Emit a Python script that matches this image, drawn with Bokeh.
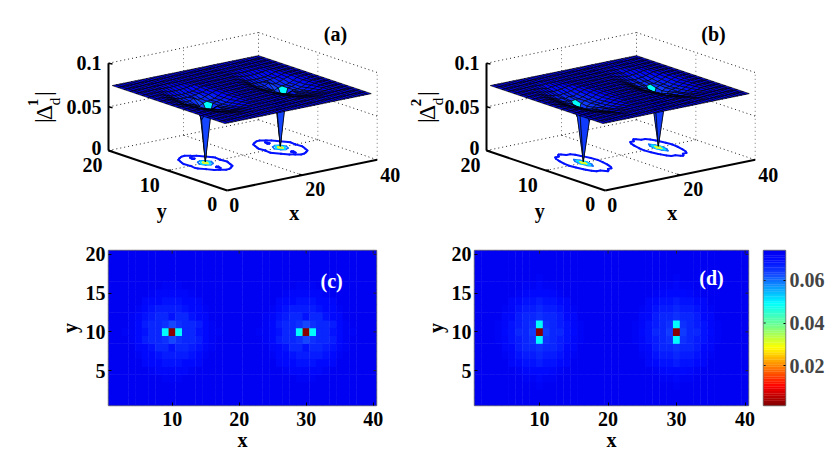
import numpy as np
from bokeh.core.properties import value
from bokeh.embed import file_html
from bokeh.layouts import column, row
from bokeh.models import ColumnDataSource, FixedTicker, LinearAxis, Range1d
from bokeh.plotting import figure
from bokeh.resources import INLINE

# ---------- data ----------
x_cells = list(range(1, 41))
y_cells = list(range(1, 21))
vortex_x = [10, 30]
vortex_y = 10
background = 0.0735
Z_LOW, Z_HIGH = 0.0012, 0.0741

# patches around a vortex, in units of 1e-4: rows from +dy to -dy, columns dx=-7..7
patch_c = [
    [735,735,735,735,733,730,727,725,727,730,733,735,735,735,735],
    [735,735,735,730,722,716,712,710,712,716,722,730,735,735,735],
    [735,735,730,716,702,696,692,690,692,696,702,716,730,735,735],
    [735,730,722,706,690,684,680,680,684,690,700,706,722,732,735],
    [735,728,715,695,675,668,670,692,670,668,685,700,715,730,735],
    [733,726,702,680,668,664,650,630,650,664,668,680,702,726,733],
    [728,722,702,685,672,664,500,15,500,664,672,685,702,722,728],
    [733,726,702,680,668,664,650,630,650,664,668,680,702,726,733],
    [735,730,715,700,685,668,670,692,670,668,675,695,715,728,735],
    [735,732,722,706,700,690,684,680,680,684,690,706,722,730,735],
    [735,735,730,716,702,696,692,690,692,696,702,716,730,735,735],
    [735,735,735,730,722,716,712,710,712,716,722,730,735,735,735],
    [735,735,735,735,733,730,727,725,727,730,733,735,735,735,735],
]
patch_d = [
    [735,735,735,735,735,735,733,728,733,735,735,735,735,735,735],
    [735,735,735,735,732,728,722,712,722,728,732,735,735,735,735],
    [735,735,735,730,720,712,706,700,706,712,720,730,735,735,735],
    [735,735,730,718,705,695,690,682,690,695,705,718,730,735,735],
    [735,733,724,708,692,676,680,668,680,676,692,708,724,733,735],
    [735,730,718,700,682,668,670,660,670,668,682,700,718,730,735],
    [733,726,712,692,676,670,650,500,650,670,676,692,712,726,733],
    [730,722,706,688,672,664,640,15,640,664,672,688,706,722,730],
    [733,726,712,692,676,670,650,500,650,670,676,692,712,726,733],
    [735,730,718,700,682,668,670,660,670,668,682,700,718,730,735],
    [735,733,724,708,692,676,680,668,680,676,692,708,724,733,735],
    [735,735,730,718,705,695,690,682,690,695,705,718,730,735,735],
    [735,735,735,730,720,712,706,700,706,712,720,730,735,735,735],
    [735,735,735,735,732,728,722,712,722,728,732,735,735,735,735],
    [735,735,735,735,735,735,733,728,733,735,735,735,735,735,735],
]
PATCH_SCALE = 1e-4
contour_levels = [0.0685, 0.060, 0.052, 0.030]

heat_x_ticks = [10, 20, 30, 40]
heat_y_ticks = [5, 10, 15, 20]
bar_ticks = [0.02, 0.04, 0.06]
cube_x_ticks = [0, 20, 40]
cube_y_ticks = [0, 10, 20]
cube_z_ticks = [0, 0.05, 0.1]
z_tick_labels = ["0", "0.05", "0.1"]

# ---------- colour table (reversed jet as seen on the colour bar) ----------
stops = [(0.0, (128, 0, 0)), (0.125, (255, 0, 0)), (0.375, (255, 255, 0)),
         (0.5, (128, 255, 128)), (0.66, (0, 255, 255)), (0.85, (20, 70, 255)),
         (0.94, (0, 10, 255)), (1.0, (0, 0, 240))]
fr = [s[0] for s in stops]
palette = []
for k in range(64):
    t = (k + 0.5) / 64
    rgb = [int(round(np.interp(t, fr, [s[1][c] for s in stops]))) for c in range(3)]
    palette.append("#%02x%02x%02x" % tuple(rgb))


def color_of(z):
    k = int((z - Z_LOW) / (Z_HIGH - Z_LOW) * 64)
    return palette[min(63, max(0, k))]


def make_grid(patch):
    g = np.full((len(x_cells), len(y_cells)), background)
    p = np.array(patch, dtype=float) * PATCH_SCALE
    nrow, ncol = p.shape
    for vx in vortex_x:
        for r in range(nrow):
            for c in range(ncol):
                dx = c - ncol // 2
                dy = nrow // 2 - r
                g[vx - 1 + dx, vortex_y - 1 + dy] = p[r, c]
    return g


grid_c = make_grid(patch_c)
grid_d = make_grid(patch_d)

FONT = value("Liberation Serif")
FS = "20px"

# ---------- 3D projection, page pixels ----------
ORG = np.array([226.7, 190.0])
EX = np.array([150.0 / 40, -30.7 / 40])
EY = np.array([-118.7 / 20, -40.0 / 20])
EZ = np.array([0.0, -873.0])


def proj(x, y, z, dx):
    px = ORG[0] + dx + np.asarray(x) * EX[0] + np.asarray(y) * EY[0]
    py = ORG[1] + np.asarray(x) * EX[1] + np.asarray(y) * EY[1] + np.asarray(z) * EZ[1]
    return px, py


def contour_segments(g, level):
    xs, ys = np.array(x_cells, float), np.array(y_cells, float)
    segs = []
    for i in range(len(xs) - 1):
        for j in range(len(ys) - 1):
            cs = [(i, j), (i + 1, j), (i + 1, j + 1), (i, j + 1)]
            pts = []
            for a in range(4):
                p0, p1 = cs[a], cs[(a + 1) % 4]
                z0, z1 = g[p0], g[p1]
                if (z0 < level) != (z1 < level):
                    t = (level - z0) / (z1 - z0)
                    pts.append((xs[p0[0]] + t * (xs[p1[0]] - xs[p0[0]]),
                                ys[p0[1]] + t * (ys[p1[1]] - ys[p0[1]])))
            for n in range(0, len(pts) - 1, 2):
                segs.append((pts[n], pts[n + 1]))
    return segs


def cube_panel(g, dx, x0, width, letter, letter_x, sup, label_dx):
    p = figure(width=width, height=224, x_range=Range1d(x0, x0 + width), y_range=Range1d(232, 8),
               toolbar_location=None, output_backend="svg", min_border=0, outline_line_color=None)
    p.axis.visible = False
    p.grid.visible = False

    # dotted box
    dash = "1 3"
    lines = []
    for x in cube_x_ticks:
        lines.append(((x, 20, 0), (x, 20, 0.1), "#777777"))
    for y in cube_y_ticks:
        lines.append(((40, y, 0), (40, y, 0.1), "#777777"))
    for z in cube_z_ticks:
        lines.append(((0, 20, z), (40, 20, z), "#222222"))
        lines.append(((40, 20, z), (40, 0, z), "#222222"))
    lines.append(((20, 0, 0), (20, 20, 0), "#222222"))
    lines.append(((0, 10, 0), (40, 10, 0), "#222222"))
    for a, b, col in lines:
        ax, ay = proj(a[0], a[1], a[2], dx)
        bx, by = proj(b[0], b[1], b[2], dx)
        p.line([float(ax), float(bx)], [float(ay), float(by)], line_color=col, line_width=1, line_dash=dash)

    # floor contours
    for lev, w in zip(contour_levels, [2.0, 1.6, 1.6, 1.2]):
        segs = contour_segments(g, lev)
        x0s, y0s = proj([s[0][0] for s in segs], [s[0][1] for s in segs], 0, dx)
        x1s, y1s = proj([s[1][0] for s in segs], [s[1][1] for s in segs], 0, dx)
        p.segment(x0s, y0s, x1s, y1s, line_color=color_of(lev), line_width=w, line_cap="round")

    # surface, far faces first
    faces = []
    nx, ny = g.shape
    lowest = g.min() + 1e-6
    for i in range(nx - 1):
        for j in range(ny - 1):
            zs = [g[i, j], g[i + 1, j], g[i + 1, j + 1], g[i, j + 1]]
            if min(zs) <= lowest:
                fz = sorted(zs)[2]
            else:
                fz = zs[0]
            cx, cy = x_cells[i] + 0.5, y_cells[j] + 0.5
            faces.append((0.77 * cx + 2 * cy, i, j, fz))
    faces.sort(key=lambda t: -t[0])
    xs, ys, cols = [], [], []
    for _, i, j, fz in faces:
        qx = [x_cells[i], x_cells[i + 1], x_cells[i + 1], x_cells[i]]
        qy = [y_cells[j], y_cells[j], y_cells[j + 1], y_cells[j + 1]]
        qz = [g[i, j], g[i + 1, j], g[i + 1, j + 1], g[i, j + 1]]
        px, py = proj(qx, qy, qz, dx)
        xs.append(px.tolist())
        ys.append(py.tolist())
        cols.append(color_of(fz))
    p.patches("xs", "ys", source=ColumnDataSource(dict(xs=xs, ys=ys, c=cols)), fill_color="c",
              fill_alpha=1.0, line_color="#000000", line_width=0.8, line_alpha=0.85)

    # solid axes
    for a, b in [((0, 20, 0), (0, 20, 0.1)), ((0, 0, 0), (0, 20, 0)), ((0, 0, 0), (40, 0, 0))]:
        ax, ay = proj(a[0], a[1], a[2], dx)
        bx, by = proj(b[0], b[1], b[2], dx)
        p.line([float(ax), float(bx)], [float(ay), float(by)], line_color="black", line_width=2)
    # tick stubs
    for z in cube_z_ticks:
        ax, ay = proj(0, 20, z, dx)
        p.line([float(ax), float(ax) + 4], [float(ay), float(ay) + 0.8], line_color="black", line_width=1.5)
    bx, by = proj(20, 0, 0, dx)
    p.line([float(bx), float(bx) - 3], [float(by), float(by) - 1], line_color="black", line_width=1.5)
    cx, cy = proj(0, 10, 0, dx)
    p.line([float(cx), float(cx) + 3], [float(cy), float(cy) - 0.6], line_color="black", line_width=1.5)

    # tick labels
    tx, ty = proj(cube_x_ticks, [0, 0, 0], 0, dx)
    p.text(tx + np.array([7, 13, 13]), ty + np.array([14, 14, 15]), text=[str(v) for v in cube_x_ticks],
           text_font=FONT, text_font_style="bold", text_font_size=FS, text_align="center", text_baseline="middle")
    tx, ty = proj([0, 0, 0], cube_y_ticks, 0, dx)
    p.text(tx + np.array([-15, -18, -16]), ty + np.array([13, 14, 14]), text=[str(v) for v in cube_y_ticks],
           text_font=FONT, text_font_style="bold", text_font_size=FS, text_align="center", text_baseline="middle")
    tx, ty = proj([0, 0, 0], [20, 20, 20], cube_z_ticks, dx)
    p.text(tx - 7, ty + np.array([-3, 0, 0]), text=z_tick_labels,
           text_font=FONT, text_font_style="bold", text_font_size=FS, text_align="right", text_baseline="middle")
    # axis names
    tx, ty = proj(20, 0, 0, dx)
    p.text([float(tx) - 8], [float(ty) + 38], text=["x"], text_font=FONT, text_font_style="bold",
           text_font_size="20px", text_align="center", text_baseline="middle")
    tx, ty = proj(0, 10, 0, dx)
    p.text([float(tx) - 6], [float(ty) + 40], text=["y"], text_font=FONT, text_font_style="bold",
           text_font_size="20px", text_align="center", text_baseline="middle")

    # |Delta^n_d| assembled from pieces, rotated
    A = np.pi / 2
    lx = label_dx
    kw = dict(text_font=FONT, angle=A, text_align="center", text_baseline="middle")
    p.text([lx + 42], [120], text=["|"], text_font_size="24px", **kw)
    p.text([lx + 43], [112], text=["\u0394"], text_font_size="24px", **kw)
    p.text([lx + 32], [102], text=[sup], text_font_size="15px", text_font_style="bold", **kw)
    p.text([lx + 54], [101], text=["d"], text_font_size="15px", **kw)
    p.text([lx + 42], [93], text=["|"], text_font_size="24px", **kw)

    p.text([letter_x], [33], text=[letter], text_font=FONT, text_font_style="bold", text_font_size=FS,
           text_align="center", text_baseline="middle")
    return p


def heat_panel(g, width, left, right, letter, lx, ly):
    p = figure(width=width, height=224, x_range=Range1d(0.5, 40.5), y_range=Range1d(0.5, 20.5),
               toolbar_location=None, output_backend="svg", min_border_left=left, min_border_right=right,
               min_border_top=18, min_border_bottom=51, outline_line_color="#777777", outline_line_width=1.5)
    p.grid.visible = False
    X, Y = np.meshgrid(x_cells, y_cells, indexing="ij")
    cols = [color_of(z) for z in g.ravel()]
    p.rect(X.ravel(), Y.ravel(), width=1.06, height=1.06, fill_color=cols, fill_alpha=1.0, line_color=None)
    p.xaxis.ticker = FixedTicker(ticks=heat_x_ticks)
    p.yaxis.ticker = FixedTicker(ticks=heat_y_ticks)
    p.xaxis.axis_label = "x"
    p.yaxis.axis_label = "y"
    p.axis.axis_label_text_font = "Liberation Serif"
    p.axis.axis_label_text_font_style = "bold"
    p.axis.axis_label_text_font_size = "20px"
    p.axis.major_label_text_font = "Liberation Serif"
    p.axis.major_label_text_font_style = "bold"
    p.axis.major_label_text_font_size = FS
    p.axis.major_label_text_color = "black"
    p.axis.axis_label_text_color = "black"
    p.axis.major_tick_in = 3
    p.axis.major_tick_out = 0
    p.axis.minor_tick_line_color = None
    p.axis.axis_line_color = None
    p.yaxis.major_label_standoff = 3
    p.xaxis.major_label_standoff = 6
    p.xaxis.axis_label_standoff = 0
    p.yaxis.axis_label_standoff = 2
    p.yaxis.major_label_orientation = "horizontal"
    # ticks of the opposite box sides
    p.segment([40.5 - 0.45] * 4, heat_y_ticks, [40.5] * 4, heat_y_ticks, line_color="#222222", line_width=1)
    p.segment(heat_x_ticks, [20.5 - 0.4] * 4, heat_x_ticks, [20.5] * 4, line_color="#222222", line_width=1)
    p.text([lx], [ly], text=[letter], text_font=FONT, text_font_style="bold", text_font_size=FS,
           text_color="white", text_align="center", text_baseline="middle")
    return p


pa = cube_panel(grid_c, 0, 8, 400, "(a)", 335, "1", 0)
pb = cube_panel(grid_d, 378, 408, 414, "(b)", 713, "2", 383)
pc = heat_panel(grid_c, 408, 100, 40, "(c)", 33.8, 16.6)
pd = heat_panel(grid_d, 339, 58, 7, "(d)", 35.1, 17.0)

bar = figure(width=72, height=224, x_range=Range1d(0, 1), y_range=Range1d(Z_LOW, Z_HIGH),
             toolbar_location=None, output_backend="svg", min_border_left=8, min_border_right=40,
             min_border_top=18, min_border_bottom=51, outline_line_color="#777777", outline_line_width=1.5)
bar.grid.visible = False
edges = np.linspace(Z_LOW, Z_HIGH, len(palette) + 1)
bar.quad(left=0, right=1, bottom=edges[:-1], top=edges[1:], fill_color=palette, fill_alpha=1.0,
         line_color=palette, line_width=0.3)
bar.segment([0.0] * 3, bar_ticks, [0.1] * 3, bar_ticks, line_color="#222222", line_width=1)
bar.xaxis.visible = False
bar.yaxis.visible = False
axis_r = LinearAxis(ticker=FixedTicker(ticks=bar_ticks), major_tick_in=2, major_tick_out=0,
                    minor_tick_line_color=None, axis_line_color=None,
                    major_label_text_font="Liberation Serif", major_label_text_font_style="bold",
                    major_label_text_font_size=FS, major_label_standoff=4)
bar.add_layout(axis_r, "right")

page = column(row(pa, pb), row(pc, pd, bar), margin=(8, 0, 0, 8))
open("out.html", "w").write(file_html(page, INLINE))
